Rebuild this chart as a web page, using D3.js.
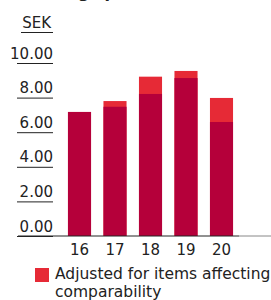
<!DOCTYPE html>
<html>
<head>
<meta charset="utf-8">
<script src="https://cdn.jsdelivr.net/npm/d3@7"></script>
<style>
  body { margin: 0; background: #fff; }
  text { font-family: "DejaVu Sans", sans-serif; fill: #222; }
</style>
</head>
<body>
<div id="chart-area"></div>
<script>
// Data
var years = ["16", "17", "18", "19", "20"];
var reported = [7.17, 7.47, 8.21, 9.13, 6.59];
var adjusted = [7.17, 7.80, 9.21, 9.54, 7.98];
var yTicks = [0, 2, 4, 6, 8, 10];

var darkRed = "#b5003a";
var brightRed = "#e62a36";
var fontFam = "\"DejaVu Sans\", sans-serif";

var svg = d3.select("#chart-area")
  .append("svg")
  .attr("width", 271)
  .attr("height", 300);

// Title (cut off at top)
svg.append("text")
  .attr("x", 20)
  .attr("y", -2)
  .style("font-size", "16px")
  .style("font-weight", "bold")
  .text("Earnings per share");

/** Scales */
var x = d3.scaleBand()
  .domain(years)
  .range([61.75, 239.25])
  .paddingInner(0.35)
  .paddingOuter(0.175);

var y = d3.scaleLinear()
  .domain([0, 10])
  .range([236, 63]);

// Unit label
svg.append("text")
  .attr("x", 51)
  .attr("y", 28)
  .attr("text-anchor", "end")
  .style("font-size", "15px")
  .text("SEK");
svg.append("line")
  .attr("x1", 21).attr("x2", 53)
  .attr("y1", 32.5).attr("y2", 32.5)
  .attr("stroke", "#222");

/** Y axis: label above a short rule */
var yAxis = d3.axisLeft(y)
  .tickValues(yTicks)
  .tickSize(36)
  .tickFormat(d3.format(".2f"));

var gy = svg.append("g")
  .attr("transform", "translate(53,0)")
  .call(yAxis);
gy.select(".domain").remove();
gy.selectAll(".tick line").attr("stroke", "#222");
gy.selectAll(".tick text")
  .attr("x", 0)
  .attr("dy", "-5px")
  .attr("text-anchor", "end")
  .style("font-size", "15px")
  .style("font-family", fontFam)
  .attr("fill", "#222");

/** Bars */
svg.selectAll(".adj")
  .data(years)
  .enter()
  .append("rect")
  .attr("class", "adj")
  .attr("x", function(d) { return x(d); })
  .attr("width", x.bandwidth())
  .attr("y", function(d, i) { return y(adjusted[i]); })
  .attr("height", function(d, i) { return y(0) - y(adjusted[i]); })
  .attr("fill", brightRed);

svg.selectAll(".rep")
  .data(years)
  .enter()
  .append("rect")
  .attr("class", "rep")
  .attr("x", function(d) { return x(d); })
  .attr("width", x.bandwidth())
  .attr("y", function(d, i) { return y(reported[i]); })
  .attr("height", function(d, i) { return y(0) - y(reported[i]); })
  .attr("fill", darkRed);

// Baseline
svg.append("line")
  .attr("x1", 18).attr("x2", 239)
  .attr("y1", y(0)).attr("y2", y(0))
  .attr("stroke", "#222");
svg.append("line")
  .attr("x1", 239).attr("x2", 271)
  .attr("y1", y(0)).attr("y2", y(0))
  .attr("stroke", "#888");

/** X axis labels */
var xAxis = d3.axisBottom(x).tickSize(0).tickPadding(8);
var gx = svg.append("g")
  .attr("transform", "translate(0," + y(0) + ")")
  .call(xAxis);
gx.select(".domain").remove();
gx.selectAll(".tick text")
  .style("font-size", "15px")
  .style("font-family", fontFam)
  .attr("fill", "#222");

/** Legend */
svg.append("rect")
  .attr("x", 35).attr("y", 268)
  .attr("width", 14).attr("height", 14)
  .attr("fill", brightRed);
svg.append("text")
  .attr("x", 55).attr("y", 279)
  .style("font-size", "15.5px")
  .text("Adjusted for items affecting");
svg.append("text")
  .attr("x", 55).attr("y", 297)
  .style("font-size", "15.5px")
  .text("comparability");
</script>
</body>
</html>
